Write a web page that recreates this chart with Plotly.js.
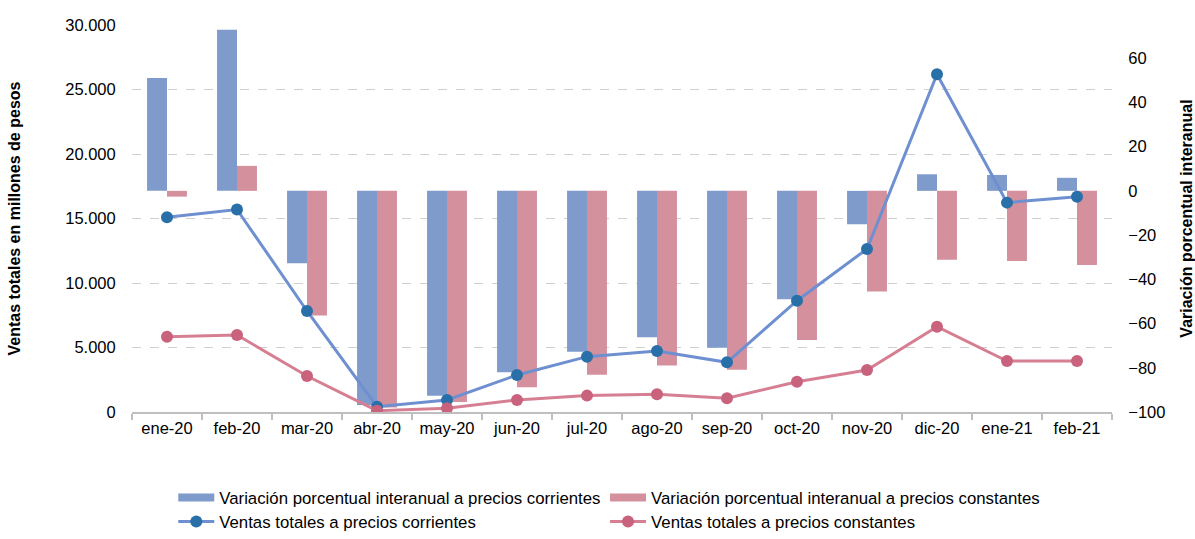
<!DOCTYPE html>
<html>
<head>
<meta charset="utf-8">
<script src="https://cdn.plot.ly/plotly-3.0.1.min.js"></script>
<style>
  html, body { margin: 0; padding: 0; background: #fff; }
  #chart { width: 1195px; height: 539px; }
</style>
</head>
<body>
<div id="chart"></div>
<script>
const categories = ["ene-20","feb-20","mar-20","abr-20","may-20","jun-20","jul-20","ago-20","sep-20","oct-20","nov-20","dic-20","ene-21","feb-21"];

// Variación porcentual interanual (%)
const varCorrientes = [51.0, 72.8, -32.7, -96.8, -92.7, -82.0, -72.7, -66.2, -70.9, -49.0, -15.1, 7.5, 7.2, 5.9];
const varConstantes = [-2.6, 11.3, -56.4, -98.0, -95.5, -88.8, -83.2, -79.0, -80.9, -67.4, -45.5, -31.2, -31.7, -33.5];

// Ventas totales (millones de pesos)
const ventasCorrientes = [15100, 15700, 7830, 410, 930, 2870, 4290, 4730, 3850, 8630, 12640, 26180, 16230, 16690];
const ventasConstantes = [5840, 5970, 2790, 100, 290, 930, 1270, 1370, 1060, 2350, 3260, 6610, 3950, 3950];

const leftTicks = [0, 5000, 10000, 15000, 20000, 25000, 30000];
const rightTicks = [-100, -80, -60, -40, -20, 0, 20, 40, 60];

const FONT = "Liberation Sans, Arial, Helvetica, sans-serif";
const BLUE_BAR = "#7f9bcc", PINK_BAR = "#d4909d";

const traces = [
  {
    type: "bar", x: categories, y: varCorrientes, yaxis: "y",
    name: "Variación porcentual interanual a precios corrientes",
    marker: { color: BLUE_BAR }, showlegend: false
  },
  {
    type: "bar", x: categories, y: varConstantes, yaxis: "y",
    name: "Variación porcentual interanual a precios constantes",
    marker: { color: PINK_BAR }, showlegend: false
  },
  {
    type: "scatter", mode: "lines+markers", x: categories, y: ventasCorrientes, yaxis: "y2",
    name: "Ventas totales a precios corrientes", legend: "legend3",
    line: { color: "#6e8fd0", width: 3 },
    marker: { color: "#2a70a8", size: 12 }
  },
  {
    type: "scatter", mode: "lines+markers", x: categories, y: ventasConstantes, yaxis: "y2",
    name: "Ventas totales a precios constantes", legend: "legend4",
    line: { color: "#d67f93", width: 3 },
    marker: { color: "#c9627c", size: 12 }
  },
  // legend swatches for the bar series (wide flat rectangles, as in the original)
  {
    type: "scatter", mode: "lines", x: [categories[0]], y: [null], yaxis: "y",
    name: "Variación porcentual interanual a precios corrientes", legend: "legend",
    line: { color: BLUE_BAR, width: 8 }, hoverinfo: "skip"
  },
  {
    type: "scatter", mode: "lines", x: [categories[0]], y: [null], yaxis: "y",
    name: "Variación porcentual interanual a precios constantes", legend: "legend2",
    line: { color: PINK_BAR, width: 8 }, hoverinfo: "skip"
  }
];

function mkLegend(x, y, yanchor) {
  return {
    orientation: "h", xref: "container", yref: "container",
    x: x, y: y, xanchor: "left", yanchor: yanchor,
    itemwidth: 36, font: { family: FONT, size: 16.8, color: "#000" },
    borderwidth: 0, bgcolor: "rgba(0,0,0,0)"
  };
}
const COL1 = 0.145, COL2 = 0.5063;

const layout = {
  width: 1195, height: 539,
  paper_bgcolor: "#fff", plot_bgcolor: "#fff",
  separators: ",.",
  font: { family: FONT, size: 16, color: "#000" },
  margin: { l: 132, r: 83, t: 25, b: 127 },
  barmode: "group", bargap: 0.43, bargroupgap: 0,
  showlegend: true,
  legend: mkLegend(COL1, 0.1095, "top"),
  legend2: mkLegend(COL2, 0.1095, "top"),
  legend3: mkLegend(COL1, 0.0, "bottom"),
  legend4: mkLegend(COL2, 0.0, "bottom"),
  xaxis: {
    type: "category", range: [-0.5, categories.length - 0.5],
    tickson: "boundaries", ticks: "outside", ticklen: 6,
    tickcolor: "#bfbfbf", tickwidth: 2, automargin: false,
    showline: true, linecolor: "#bfbfbf", linewidth: 2,
    showgrid: false, zeroline: false,
    tickfont: { family: FONT, size: 16.5, color: "#000" }
  },
  yaxis: {
    side: "right", range: [-100, 75], tickvals: rightTicks, automargin: false,
    showgrid: false, zeroline: false, showline: false,
    ticks: "outside", ticklen: 12, tickcolor: "rgba(0,0,0,0)",
    tickfont: { family: FONT, size: 16.5, color: "#000" },
    title: { text: "Variación porcentual interanual", font: { family: FONT, size: 16, color: "#000", weight: "bold" }, standoff: 22 }
  },
  yaxis2: {
    overlaying: "y", side: "left", range: [0, 30000], tickvals: leftTicks,
    tickformat: ",d", automargin: false,
    showgrid: true, gridcolor: "#d0d0d0", griddash: "dash", gridwidth: 1,
    zeroline: false, showline: false,
    ticks: "outside", ticklen: 12, tickcolor: "rgba(0,0,0,0)",
    tickfont: { family: FONT, size: 16.5, color: "#000" },
    title: { text: "Ventas totales en millones de pesos", font: { family: FONT, size: 16, color: "#000", weight: "bold" }, standoff: 40 }
  }
};

Plotly.newPlot("chart", traces, layout, { displayModeBar: false, staticPlot: true });
</script>
</body>
</html>
